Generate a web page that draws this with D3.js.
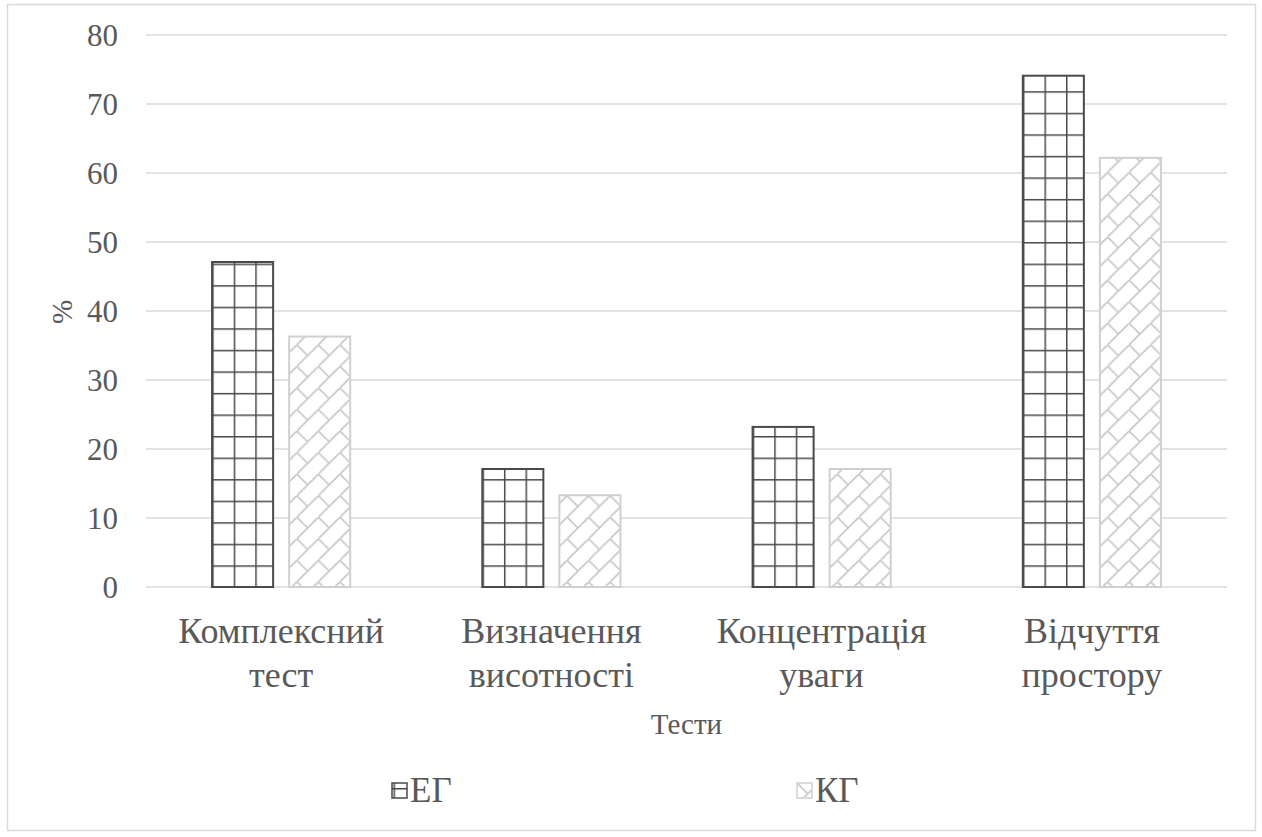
<!DOCTYPE html>
<html>
<head>
<meta charset="utf-8">
<script src="https://cdn.jsdelivr.net/npm/d3@7/dist/d3.min.js"></script>
</head>
<body style="margin:0">
<svg id="chart" width="1262" height="837"></svg>
<script>
// Test categories (two-line labels) and results per group, %
const categories = ["Комплексний тест", "Визначення висотності", "Концентрація уваги", "Відчуття простору"];
const categoryLines = [["Комплексний", "тест"], ["Визначення", "висотності"], ["Концентрація", "уваги"], ["Відчуття", "простору"]];
const seriesNames = ["ЕГ", "КГ"];
const egValues = [47.1, 17.1, 23.2, 74.1];
const kgValues = [36.3, 13.3, 17.1, 62.2];
const yTicks = [0, 10, 20, 30, 40, 50, 60, 70, 80];
const xTitle = "Тести";
const yTitle = "%";

const FONT = "Liberation Serif";
const TEXT = "#595959";

const svg = d3.select("#chart").attr("font-family", FONT);
const plot = { left: 146, right: 1227, top: 35, bottom: 587 };

// Fill patterns: dark grid for ЕГ, light diagonal brick for КГ
const defs = svg.append("defs");
const T = 21.55;
const grid = defs.append("pattern")
  .attr("id", "pat-eg").attr("patternUnits", "userSpaceOnUse")
  .attr("width", T).attr("height", T)
  .attr("x", 1.5).attr("y", 5);
grid.append("rect").attr("width", T).attr("height", T).attr("fill", "#fff");
grid.append("line").attr("x1", 0).attr("x2", 0).attr("y1", 0).attr("y2", T)
  .attr("stroke", "#4a4a4a").attr("stroke-width", 3);
grid.append("line").attr("x1", 0).attr("x2", T).attr("y1", 0).attr("y2", 0)
  .attr("stroke", "#4a4a4a").attr("stroke-width", 3);

const brick = defs.append("pattern")
  .attr("id", "pat-kg").attr("patternUnits", "userSpaceOnUse")
  .attr("width", T).attr("height", T)
  .attr("x", 0).attr("y", 0);
brick.append("rect").attr("width", T).attr("height", T).attr("fill", "#fff");
brick.append("line").attr("x1", -1).attr("y1", T + 1).attr("x2", T + 1).attr("y2", -1)
  .attr("stroke", "#c6c6c6").attr("stroke-width", 1.6);
brick.append("line").attr("x1", 0).attr("y1", 0).attr("x2", T / 2).attr("y2", T / 2)
  .attr("stroke", "#c6c6c6").attr("stroke-width", 1.6);

// Outer chart frame
svg.append("rect")
  .attr("x", 7.5).attr("y", 4.5).attr("width", 1248).attr("height", 826)
  .attr("fill", "#fff").attr("stroke", "#d9d9d9").attr("stroke-width", 1.5);

const x0 = d3.scaleBand().domain(categories).range([plot.left, plot.right]).paddingInner(0).paddingOuter(0);
const groupW = 138 / 270;
const x1 = d3.scaleBand().domain(seriesNames)
  .range([(x0.bandwidth() * (1 - groupW)) / 2, (x0.bandwidth() * (1 + groupW)) / 2])
  .paddingInner(16 / 77);
const y = d3.scaleLinear().domain([0, 80]).range([plot.bottom, plot.top]);

function styleText(sel, size) {
  return sel.attr("font-family", FONT).attr("font-size", size).attr("fill", TEXT);
}

// Horizontal gridlines
svg.append("g")
  .selectAll("line").data(yTicks).join("line")
  .attr("x1", plot.left).attr("x2", plot.right)
  .attr("y1", d => y(d)).attr("y2", d => y(d))
  .attr("stroke", "#d9d9d9").attr("stroke-width", 1.5);

// Y axis labels
const yAxis = d3.axisLeft(y).tickValues(yTicks).tickSize(0).tickPadding(0);
const yg = svg.append("g").attr("transform", `translate(118,0)`).call(yAxis);
yg.attr("font-family", FONT).attr("font-size", 31);
yg.select(".domain").remove();
styleText(yg.selectAll("text"), 31).attr("dy", "0.34em");

// Bars
const rows = categories.map((c, i) => ({ c, values: [egValues[i], kgValues[i]] }));
const groups = svg.append("g").selectAll("g").data(rows).join("g")
  .attr("transform", d => `translate(${x0(d.c)},0)`);
groups.selectAll("rect")
  .data(d => d.values.map((v, k) => ({ s: seriesNames[k], v })))
  .join("rect")
  .attr("x", d => x1(d.s))
  .attr("width", x1.bandwidth())
  .attr("y", d => y(d.v))
  .attr("height", d => y(0) - y(d.v))
  .attr("fill", d => d.s === "ЕГ" ? "url(#pat-eg)" : "url(#pat-kg)")
  .attr("stroke", d => d.s === "ЕГ" ? "#4a4a4a" : "#d0d0d0")
  .attr("stroke-width", 2);

// Category labels (two lines each)
const xl = styleText(svg.append("g").selectAll("text").data(categories).join("text"), 36)
  .attr("text-anchor", "middle")
  .attr("x", d => x0(d) + x0.bandwidth() / 2);
xl.each(function (d, i) {
  const t = d3.select(this);
  categoryLines[i].forEach((ln, j) => {
    t.append("tspan").attr("x", x0(d) + x0.bandwidth() / 2).attr("y", 643 + j * 44).text(ln);
  });
});

// Axis titles
styleText(svg.append("text"), 29).attr("x", (plot.left + plot.right) / 2).attr("y", 734)
  .attr("text-anchor", "middle").text(xTitle);
styleText(svg.append("text"), 29).attr("transform", "translate(72,312) rotate(-90)")
  .attr("text-anchor", "middle").text(yTitle);

// Legend
const legendX = [392, 797];
const lg = svg.append("g").selectAll("g").data(seriesNames).join("g")
  .attr("transform", (d, i) => `translate(${legendX[i]},783)`);
lg.append("rect").attr("width", 15).attr("height", 15)
  .attr("fill", (d, i) => i === 0 ? "url(#pat-eg)" : "url(#pat-kg)")
  .attr("stroke", (d, i) => i === 0 ? "#4a4a4a" : "#d0d0d0").attr("stroke-width", 1.5);
styleText(lg.append("text"), 35).attr("x", 18).attr("y", 19).text(d => d);
</script>
</body>
</html>
